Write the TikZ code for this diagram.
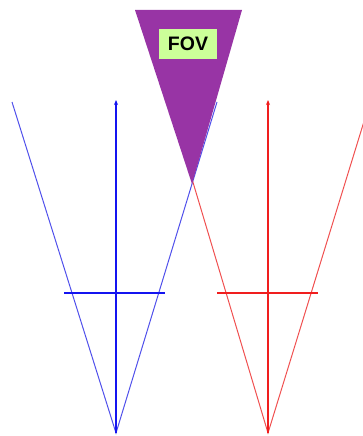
\documentclass[tikz,border=0pt]{standalone}
\usepackage{fontspec}
\setmainfont{Liberation Sans}
\usetikzlibrary{arrows.meta}
\definecolor{fovpurple}{RGB}{152,52,165}
\definecolor{fovgreen}{RGB}{204,255,153}
\definecolor{bluemain}{RGB}{20,20,240}
\definecolor{blueside}{RGB}{80,80,235}
\definecolor{redmain}{RGB}{240,30,30}
\definecolor{redside}{RGB}{240,80,80}
\tikzset{
  sideline/.style={line width=1pt},
  axisline/.style={line width=1.5pt,-{Stealth[length=5pt,width=4pt]}},
  barline/.style={line width=1.5pt},
  fovlabel/.style={fill=fovgreen,font=\bfseries\fontsize{19.5}{22}\selectfont,inner sep=0pt,minimum width=58pt,minimum height=30pt}
}
\begin{document}
\begin{tikzpicture}[x=1pt,y=-1pt]
\useasboundingbox (0,0) rectangle (362,436);
% blue camera
\coordinate (bA) at (116,433);
\coordinate (bL) at (12,102);
\coordinate (bR) at (217,102);
\coordinate (bT) at (116,100);
\coordinate (bbL) at (64,293);
\coordinate (bbR) at (165,293);
\draw[sideline,blueside] (bL) -- (bA) -- (bR);
\draw[axisline,bluemain] (bA) -- (bT);
\draw[barline,bluemain] (bbL) -- (bbR);
% red camera
\coordinate (rA) at (268,433);
\coordinate (rL) at (192,179);
\coordinate (rR) at (370,102);
\coordinate (rT) at (268,100);
\coordinate (rbL) at (217,293);
\coordinate (rbR) at (318,293);
\draw[sideline,redside] (rL) -- (rA) -- (rR);
\draw[axisline,redmain] (rA) -- (rT);
\draw[barline,redmain] (rbL) -- (rbR);
% FOV
\coordinate (f1) at (135,10);
\coordinate (f2) at (242,10);
\coordinate (f3) at (192,184);
\fill[fovpurple] (f1) -- (f2) -- (f3) -- cycle;
\node[fovlabel] (fov) at (188,44) {FOV};
\end{tikzpicture}
\end{document}
